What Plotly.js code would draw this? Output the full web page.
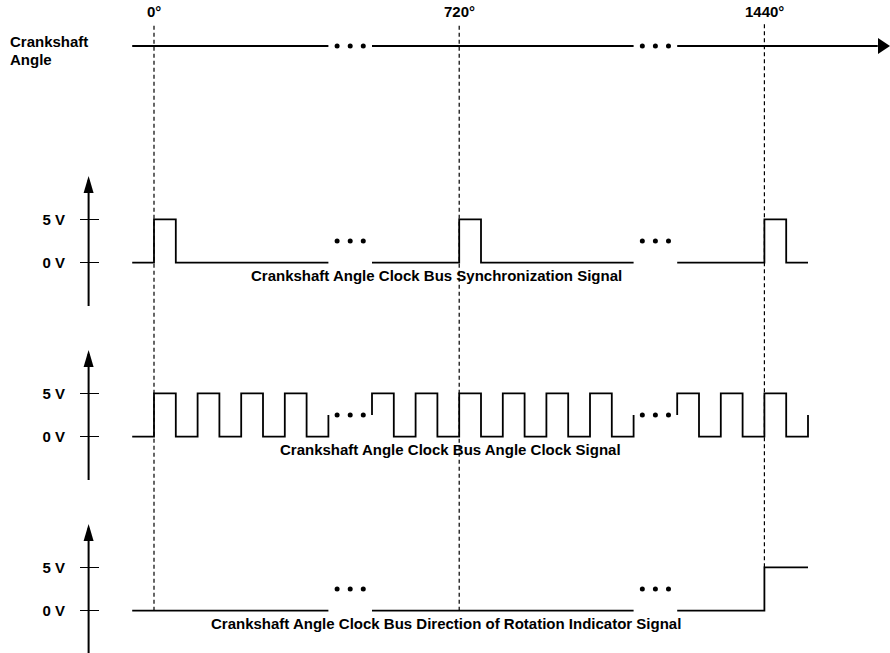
<!DOCTYPE html>
<html><head><meta charset="utf-8">
<script src="https://cdn.plot.ly/plotly-3.0.1.min.js"></script>
<style>html,body{margin:0;padding:0;background:#fff;overflow:hidden}</style>
</head><body><div id="chart" style="width:890px;height:653px"></div>
<script>
// ---- data (x unit = half a clock period, 0 = the 0° edge) ----
const angleLabels = ['0°', '720°', '1440°'];
const angleEdges = [0, 14, 28];
const dashEndLevel = [0, 0, 5];
const gapDotsX = [8.4, 9.0, 9.6, 22.4, 23.0, 23.6];
const angleAxisX = [-1, 8, null, 10, 22, null, 24, 33.2];
const angleAxisY = [0, 0, null, 0, 0, null, 0, 0];

const syncX = [-1, 0, 1, 8, null, 10, 14, 15, 22, null, 24, 28, 29, 30];
const syncV = [0, 5, 0, 0, null, 0, 5, 0, 0, null, 0, 5, 0, 0];

const clockX = [-1, 0, 1, 2, 3, 4, 5, 6, 7, 8, null,
  10, 10, 11, 12, 13, 14, 15, 16, 17, 18, 19, 20, 21, 22, null,
  24, 24, 25, 26, 27, 28, 29, 30];
const clockV = [0, 5, 0, 5, 0, 5, 0, 5, 0, 2.5, null,
  2.5, 5, 0, 5, 0, 5, 0, 5, 0, 5, 0, 5, 0, 2.5, null,
  2.5, 5, 0, 5, 0, 5, 0, 2.5];

const dirX = [-1, 8, null, 10, 22, null, 24, 28, 30];
const dirV = [0, 0, null, 0, 0, null, 0, 5, 5];

const gapDotLevel = 2.5;
const levelVals = [0, 5];
const levelLabels = ['0 V', '5 V'];
const signalNames = [
  'Crankshaft Angle Clock Bus Synchronization Signal',
  'Crankshaft Angle Clock Bus Angle Clock Signal',
  'Crankshaft Angle Clock Bus Direction of Rotation Indicator Signal'
];
const rowTitle = ['Crankshaft', 'Angle'];

// ---- layout helpers ----
const W = 890, H = 653;
const UNIT = 21.8, X0PX = 154;
const XL = -X0PX / UNIT, XR = (W - X0PX) / UNIT;
const AXIS_AT = -3;
const pxX = u => X0PX + u * UNIT;
const fy = px => 1 - px / H;
const domains = [[306, 176], [480, 350], [653, 524]];
const ranges = [[-5, 10], [-5, 10], [-4.885, 10]];
const yPaper = (i, v) => {
  const d0 = fy(domains[i][0]), d1 = fy(domains[i][1]);
  const r = ranges[i];
  return d0 + (v - r[0]) / (r[1] - r[0]) * (d1 - d0);
};
const b = s => '<b>' + s + '</b>';
const font = {family: 'Liberation Sans, Arial, sans-serif', size: 15, color: '#000'};
const blk = '#000';

const traces = [];
traces.push({x: angleAxisX, y: angleAxisY, xaxis: 'x', yaxis: 'y', mode: 'lines',
  line: {color: blk, width: 2}, hoverinfo: 'skip', cliponaxis: false});
traces.push({x: gapDotsX, y: gapDotsX.map(() => 0), xaxis: 'x', yaxis: 'y', mode: 'markers',
  marker: {color: blk, size: 5}, hoverinfo: 'skip'});
const sigs = [[syncX, syncV], [clockX, clockV], [dirX, dirV]];
sigs.forEach((s, i) => {
  const ya = 'y' + (i + 2);
  traces.push({x: s[0], y: s[1], xaxis: 'x', yaxis: ya, mode: 'lines',
    line: {color: blk, width: 1.8, shape: 'hv'}, connectgaps: false, hoverinfo: 'skip', cliponaxis: false});
  traces.push({x: gapDotsX, y: gapDotsX.map(() => gapDotLevel), xaxis: 'x', yaxis: ya, mode: 'markers',
    marker: {color: blk, size: 5}, hoverinfo: 'skip'});
});

const layout = {
  width: W, height: H, margin: {l: 0, r: 0, t: 0, b: 0},
  paper_bgcolor: '#fff', plot_bgcolor: 'rgba(0,0,0,0)', showlegend: false,
  font: font,
  xaxis: {range: [XL, XR], visible: false, fixedrange: true},
  yaxis: {domain: [fy(61), fy(31)], range: [-1, 1], visible: false, fixedrange: true},
  shapes: [], annotations: []
};
const tickStart = (pxX(AXIS_AT) - 9.5) / W;
domains.forEach((d, i) => {
  layout['yaxis' + (i + 2)] = {
    domain: [Math.max(0, fy(d[0])), fy(d[1])], range: ranges[i], anchor: 'free', position: tickStart,
    showgrid: false, zeroline: false, showline: false, fixedrange: true,
    tickmode: 'array', tickvals: levelVals, ticktext: levelLabels.map(b),
    ticks: 'inside', ticklen: 19, tickwidth: 1.3, tickcolor: blk,
    tickfont: font, ticklabelstandoff: 14
  };
  layout.shapes.push({type: 'line', xref: 'x', yref: 'y' + (i + 2) + ' domain', x0: AXIS_AT, x1: AXIS_AT,
    y0: 0, y1: 0.97, line: {color: blk, width: 2}});
  layout.shapes.push({type: 'path', xref: 'x', yref: 'y' + (i + 2), xsizemode: 'pixel', ysizemode: 'pixel',
    xanchor: AXIS_AT, yanchor: ranges[i][1], path: 'M0,0L-5,-17L5,-17Z',
    fillcolor: blk, line: {width: 0}});
  layout.annotations.push({text: b(signalNames[i]), xref: 'paper', yref: 'y' + (i + 2),
    x: [436.5, 450.4, 445.5][i] / W, y: -1.5, xanchor: 'center', yanchor: 'middle',
    showarrow: false, font: font});
});
layout.shapes.push({type: 'path', xref: 'x', yref: 'y', xsizemode: 'pixel', ysizemode: 'pixel',
  xanchor: XR, yanchor: 0, path: 'M0,0L-12,-8L-12,8Z', fillcolor: blk, line: {width: 0}});
angleEdges.forEach((e, i) => {
  layout.shapes.push({type: 'line', xref: 'x', yref: 'paper', x0: e, x1: e,
    y0: yPaper(2, dashEndLevel[i]), y1: fy(23), line: {color: blk, width: 1.2, dash: '4px,3px'}, layer: 'below'});
  layout.annotations.push({text: b(angleLabels[i]), xref: 'x', yref: 'paper', x: e, y: fy(12),
    xanchor: 'center', yanchor: 'middle', showarrow: false, font: font});
});
rowTitle.forEach((t, k) => {
  layout.annotations.push({text: b(t), xref: 'paper', yref: 'paper', x: 8 / W, y: fy([42, 59][k]),
    xanchor: 'left', yanchor: 'middle', align: 'left', showarrow: false, font: font});
});

Plotly.newPlot('chart', traces, layout, {staticPlot: true, displayModeBar: false});
</script></body></html>
